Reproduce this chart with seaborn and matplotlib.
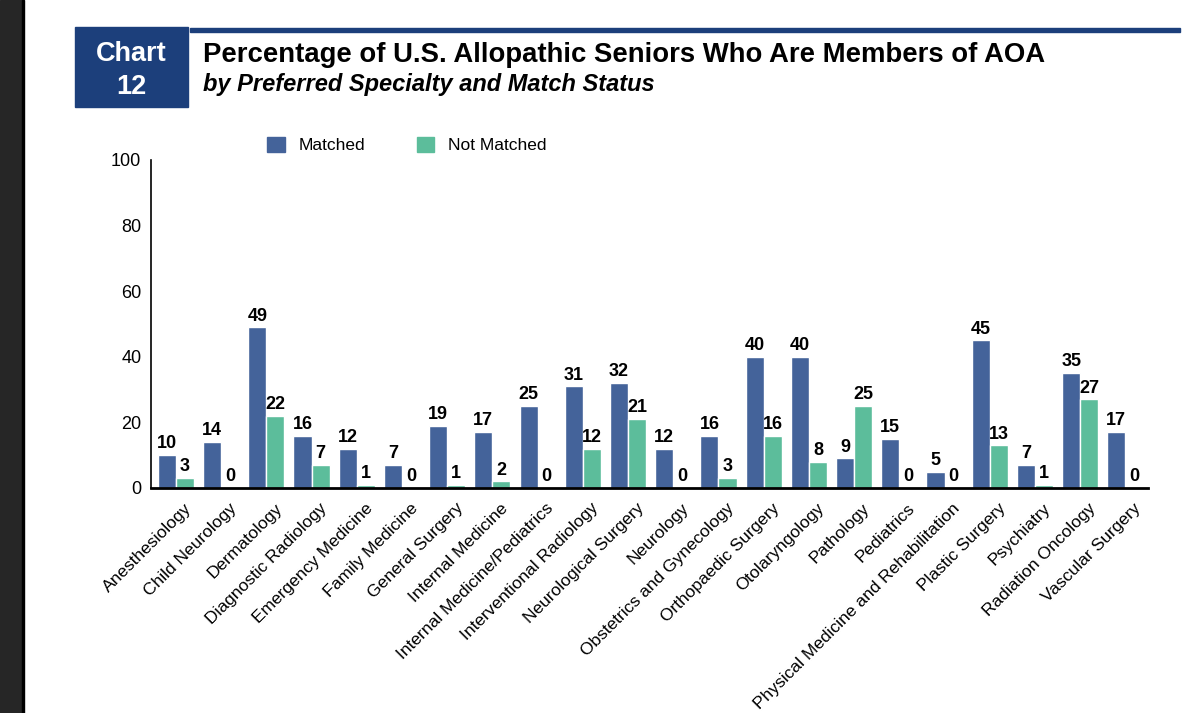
import pandas as pd
import matplotlib.pyplot as plt
import matplotlib.transforms as mtransforms
import seaborn as sns
from matplotlib.patches import Rectangle

specialties = ["Anesthesiology", "Child Neurology", "Dermatology", "Diagnostic Radiology",
               "Emergency Medicine", "Family Medicine", "General Surgery", "Internal Medicine",
               "Internal Medicine/Pediatrics", "Interventional Radiology", "Neurological Surgery",
               "Neurology", "Obstetrics and Gynecology", "Orthopaedic Surgery", "Otolaryngology",
               "Pathology", "Pediatrics", "Physical Medicine and Rehabilitation", "Plastic Surgery",
               "Psychiatry", "Radiation Oncology", "Vascular Surgery"]
matched = [10, 14, 49, 16, 12, 7, 19, 17, 25, 31, 32, 12, 16, 40, 40, 9, 15, 5, 45, 7, 35, 17]
not_matched = [3, 0, 22, 7, 1, 0, 1, 2, 0, 12, 21, 0, 3, 16, 8, 25, 0, 0, 13, 1, 27, 0]
statuses = ["Matched", "Not Matched"]
colors = ["#44639A", "#5CBD9B"]

df = pd.DataFrame({
    "Specialty": specialties * 2,
    "Status": [statuses[0]] * len(specialties) + [statuses[1]] * len(specialties),
    "Percent": matched + not_matched,
})

sns.set_style("white")
plt.rcParams["font.family"] = ["Liberation Sans", "DejaVu Sans"]
plt.rcParams["text.color"] = "black"
plt.rcParams["xtick.color"] = "black"
plt.rcParams["ytick.color"] = "black"
plt.rcParams["axes.labelcolor"] = "black"

fig = plt.figure(figsize=(12, 7.13), dpi=100)
ax = fig.add_axes([151 / 1200, 1 - 488 / 713, 997 / 1200, 328 / 713])

sns.barplot(data=df, x="Specialty", y="Percent", hue="Status", palette=colors,
            width=0.8, ax=ax, legend=False, saturation=1)

for cont in ax.containers:
    ax.bar_label(cont, fmt="%d", fontsize=13, fontweight="bold", padding=2, color="black")

ax.set_ylim(0, 100)
ax.set_xlim(-0.55, len(specialties) - 0.5)
ax.set_yticks([0, 20, 40, 60, 80, 100])
ax.tick_params(axis="y", labelsize=13, length=0, pad=7)
ax.tick_params(axis="x", length=0, pad=9)
ax.set_xticks(range(len(specialties)))
ax.set_xticklabels(specialties, rotation=45, ha="right", rotation_mode="anchor", fontsize=12.5)
# nudge the rotated labels to the right like the original
shift = mtransforms.ScaledTranslation(8 / 100, 0, fig.dpi_scale_trans)
for lbl in ax.get_xticklabels():
    lbl.set_transform(lbl.get_transform() + shift)
ax.set_xlabel("")
ax.set_ylabel("")
sns.despine(ax=ax)
ax.spines["left"].set_color("black")
ax.spines["bottom"].set_color("black")
ax.spines["bottom"].set_linewidth(2)
ax.spines["left"].set_linewidth(1.2)

# legend
handles = [Rectangle((0, 0), 1, 1, color=c) for c in colors]
fig.legend(handles, statuses, loc="center", bbox_to_anchor=(407 / 1200, 1 - 145 / 713),
           ncol=2, frameon=False, fontsize=12.5, handlelength=1.0, handleheight=1.0,
           handletextpad=0.8, columnspacing=3.0)

# header
fig.patches.append(Rectangle((75 / 1200, 1 - 107 / 713), 113 / 1200, 80 / 713,
                             transform=fig.transFigure, color="#1C3F7B"))
fig.patches.append(Rectangle((190 / 1200, 1 - 32 / 713), 990 / 1200, 4 / 713,
                             transform=fig.transFigure, color="#1C3F7B"))
fig.text(131 / 1200, 1 - 54 / 713, "Chart", color="white", fontsize=19.5, fontweight="bold",
         ha="center", va="center")
fig.text(131 / 1200, 1 - 87 / 713, "12", color="white", fontsize=19.5, fontweight="bold",
         ha="center", va="center")
fig.text(203 / 1200, 1 - 55 / 713, "Percentage of U.S. Allopathic Seniors Who Are Members of AOA",
         fontsize=19.8, fontweight="bold", ha="left", va="center")
fig.text(203 / 1200, 1 - 85 / 713, "by Preferred Specialty and Match Status",
         fontsize=17, fontweight="bold", fontstyle="italic", ha="left", va="center")

# dark side strip
fig.patches.append(Rectangle((0, 0), 22 / 1200, 1, transform=fig.transFigure, color="#262626"))
fig.patches.append(Rectangle((22 / 1200, 0), 1.5 / 1200, 1, transform=fig.transFigure, color="black"))

fig.savefig("out.png", dpi=100)
